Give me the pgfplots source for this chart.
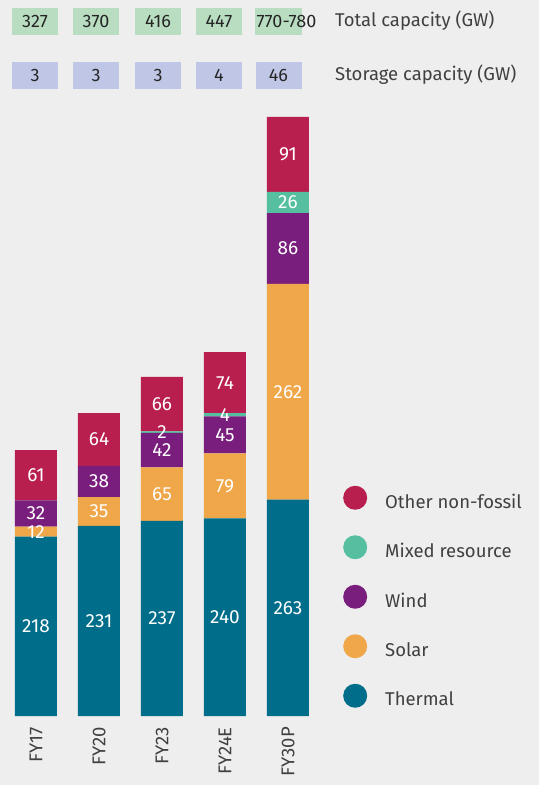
\documentclass[border=0pt]{standalone}
\usepackage{fontspec}
\setmainfont{Fira Sans}
\usepackage{pgfplots}
\pgfplotsset{compat=1.18}
\definecolor{bg}{HTML}{EEEEEE}
\definecolor{thermal}{HTML}{006E8A}
\definecolor{solar}{HTML}{F0A74A}
\definecolor{wind}{HTML}{7A1E7E}
\definecolor{mixed}{HTML}{55BFA0}
\definecolor{other}{HTML}{B81F4F}
\definecolor{boxgreen}{HTML}{B8DDC0}
\definecolor{boxblue}{HTML}{C0C7E6}
\definecolor{labelgray}{HTML}{404040}
\newcommand{\fs}{\fontsize{18.5}{18.5}\selectfont}
\newcommand{\fn}{\fontsize{18}{18}\selectfont}
\newcommand{\fb}{\fontsize{19}{19}\selectfont}
\pgfplotsset{circle legend/.style={legend image code/.code={\fill[##1] (12pt,4pt) circle (12pt);}},
  common/.style={at={(4.5pt,69pt)}, anchor=south west, scale only axis,
  width=315pt, height=609pt, xmin=-0.5, xmax=4.5, ymin=0, ymax=740, clip=false}}
\begin{document}
\begin{tikzpicture}[x=1pt,y=1pt]
\fill[bg] (0,0) rectangle (539,785);
\begin{axis}[common,
  ybar stacked, bar width=42pt, axis line style={draw=none},
  ytick=\empty, xtick={0,1,2,3,4}, xticklabels={FY17,FY20,FY23,FY24E,FY30P},
  major tick length=0pt,
  xticklabel style={rotate=90, anchor=east, inner sep=0pt, font=\fs, text=labelgray},
  xticklabel shift=11pt,
  reverse legend, legend cell align=left,
  legend style={at={(axis description cs:1.0746,0.1958)}, anchor=west, draw=none, fill=none, inner sep=0pt, font=\fs, text=labelgray, nodes={inner sep=0pt}, column sep=18pt, row sep=25.5pt},
]
\addplot[fill=thermal, draw=none, circle legend] coordinates {(0,218) (1,231) (2,237) (3,240) (4,263)};
\addlegendentry{Thermal}
\addplot[fill=solar, draw=none, circle legend] coordinates {(0,12) (1,35) (2,65) (3,79) (4,262)};
\addlegendentry{Solar}
\addplot[fill=wind, draw=none, circle legend] coordinates {(0,32) (1,38) (2,42) (3,45) (4,86)};
\addlegendentry{Wind}
\addplot[fill=mixed, draw=none, circle legend] coordinates {(0,0) (1,0) (2,2) (3,4) (4,26)};
\addlegendentry{Mixed resource}
\addplot[fill=other, draw=none, circle legend] coordinates {(0,61) (1,64) (2,66) (3,74) (4,91)};
\addlegendentry{Other non-fossil}
\end{axis}
% segment value labels at segment midpoints
\begin{axis}[common, hide axis, point meta=explicit symbolic,
  nodes near coords, nodes near coords align=center,
  every node near coord/.append style={anchor=center, text=white, font=\fb, inner sep=0pt}]
\addplot[only marks, mark=none] coordinates {
 (0,109)[218] (0,224)[12] (0,246)[32] (0,292.5)[61]
 (1,115.5)[231] (1,248.5)[35] (1,285)[38] (1,336)[64]
 (2,118.5)[237] (2,269.5)[65] (2,323)[42] (2,345)[2] (2,379)[66]
 (3,120)[240] (3,279.5)[79] (3,341.5)[45] (3,366)[4] (3,405)[74]
 (4,131.5)[263] (4,394)[262] (4,568)[86] (4,624)[26] (4,682.5)[91]};
\end{axis}
% header rows
\foreach \cx/\t in {35/327, 96/370, 158/416, 219/447} {
  \fill[boxgreen] (\cx-23,750) rectangle (\cx+23,777);
  \node[font=\fn, text=black!85, inner sep=0pt] at (\cx,763.5) {\t};
}
\fill[boxgreen] (255,750) rectangle (302,777);
\node[font=\fn, text=black!85, inner sep=0pt, anchor=west] at (256.5,763.5) {770-780};
\foreach \cx/\t in {35/3, 96/3, 158/3, 219/4, 278.5/46} {
  \fill[boxblue] (\cx-23,696) rectangle (\cx+23,723);
  \node[font=\fn, text=black!85, inner sep=0pt] at (\cx,709.5) {\t};
}
\node[font=\fs, text=labelgray, inner sep=0pt, anchor=west] at (335,764) {Total capacity (GW)};
\node[font=\fs, text=labelgray, inner sep=0pt, anchor=west] at (335,710) {Storage capacity (GW)};
\end{tikzpicture}
\end{document}
